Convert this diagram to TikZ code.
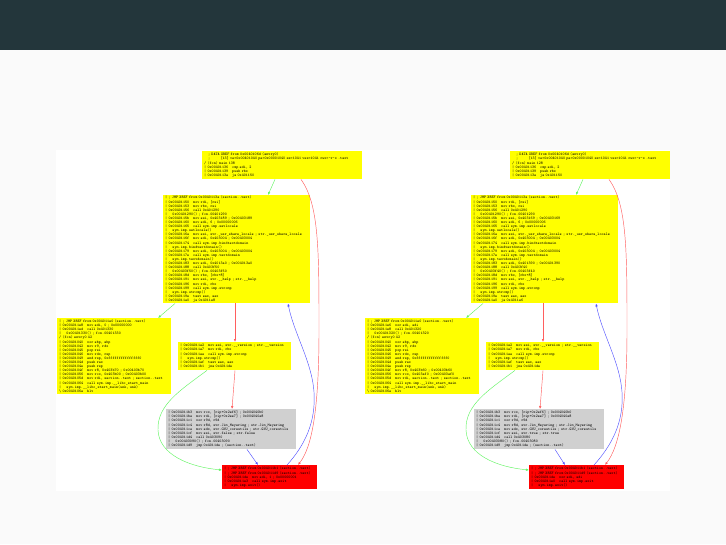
\documentclass[tikz,border=0pt]{standalone}
\usepackage{tikz}
\usetikzlibrary{arrows.meta}
\definecolor{hdr}{RGB}{35,54,59}
\definecolor{pagebg}{RGB}{250,250,250}
\definecolor{cfgyellow}{RGB}{255,255,0}
\definecolor{cfggray}{RGB}{208,208,208}
\definecolor{cfgred}{RGB}{255,0,0}
\definecolor{jgreen}{RGB}{100,245,100}
\definecolor{jred}{RGB}{255,95,95}
\definecolor{jblue}{RGB}{85,85,255}

\begin{document}
\begin{tikzpicture}[x=1pt, y=-1pt,
    blk/.style={anchor=north west, inner xsep=2pt, inner ysep=1pt, align=left,
      font=\ttfamily\fontsize{3.9}{4.1}\selectfont},
    yblk/.style={blk, fill=cfgyellow},
    gblk/.style={blk, fill=cfggray},
    rblk/.style={blk, fill=cfgred},
    jmp/.style={line width=0.45pt, -{Latex[length=3pt,width=2.4pt]}}]
  \useasboundingbox (0,0) rectangle (726,544);
  % slide
  \fill[pagebg] (0,0) rectangle (726,544);
  \fill[hdr] (0,0) rectangle (726,50);
  \fill[white] (56,150) rectangle (670,491);

  % left graph (false)
  \node[yblk, text width=156pt, minimum height=28pt] (topl) at (202,151) {%
    \mbox{}~~~; DATA XREF from 0x0040106d (entry0)\\
    \mbox{}~~~;~~~~~~~~[13] va=0x00401040 pa=0x00001040 sz=1041 vsz=1041 rwx=-r-x .text\\
    / (fcn) main 138\\
    | 0x00401136~~~cmp edi, 2\\
    | 0x00401139~~~push rbx\\
    | 0x0040113a~~~je 0x401150};
  \node[yblk, text width=143pt, minimum height=108pt] (mainl) at (163,195) {%
    | ; JMP XREF from 0x0040113a (section..text)\\
    | 0x00401150~~~mov rdi, [rsi]\\
    | 0x00401153~~~mov rbx, rsi\\
    | 0x00401156~~~call 0x401290\\
    |~~~~0x00401290() ; fcn.00401290\\
    | 0x0040115b~~~mov esi, 0x403189 ; 0x00403189\\
    | 0x00401160~~~mov edi, 6 ; 0x00000006\\
    | 0x00401165~~~call sym.imp.setlocale\\
    |~~~~sym.imp.setlocale()\\
    | 0x0040116a~~~mov esi, str.\_usr\_share\_locale ; str.\_usr\_share\_locale\\
    | 0x0040116f~~~mov edi, 0x403004 ; 0x00403004\\
    | 0x00401174~~~call sym.imp.bindtextdomain\\
    |~~~~sym.imp.bindtextdomain()\\
    | 0x00401179~~~mov edi, 0x403004 ; 0x00403004\\
    | 0x0040117e~~~call sym.imp.textdomain\\
    |~~~~sym.imp.textdomain()\\
    | 0x00401183~~~mov edi, 0x4013a0 ; 0x004013a0\\
    | 0x00401188~~~call 0x403f50\\
    |~~~~0x00403f50() ; fcn.00403f50\\
    | 0x0040118d~~~mov rbx, [rbx+8]\\
    | 0x00401191~~~mov esi, str.\_\_help ; str.\_\_help\\
    | 0x00401196~~~mov rdi, rbx\\
    | 0x00401199~~~call sym.imp.strcmp\\
    |~~~~sym.imp.strcmp()\\
    | 0x0040119e~~~test eax, eax\\
    | 0x004011a0~~~je 0x4011e8};
  \node[yblk, text width=110pt, minimum height=76pt] (fcnl) at (57,318) {%
    | ; JMP XREF from 0x004011a0 (section..text)\\
    | 0x004011e8~~~mov edi, 0 ; 0x00000000\\
    | 0x004011ed~~~call 0x401330\\
    |~~~~0x00401330() ; fcn.00401330\\
    / (fcn) entry0 42\\
    | 0x00401040~~~xor ebp, ebp\\
    | 0x00401042~~~mov r9, rdx\\
    | 0x00401045~~~pop rsi\\
    | 0x00401046~~~mov rdx, rsp\\
    | 0x00401049~~~and rsp, 0xfffffffffffffff0\\
    | 0x0040104d~~~push rax\\
    | 0x0040104e~~~push rsp\\
    | 0x0040104f~~~mov r8, 0x403b70 ; 0x00403b70\\
    | 0x00401056~~~mov rcx, 0x403b00 ; 0x00403b00\\
    | 0x0040105d~~~mov rdi, section..text ; section..text\\
    | 0x00401064~~~call sym.imp.\_\_libc\_start\_main\\
    |~~~~sym.imp.\_\_libc\_start\_main(unk, unk)\\
    \textbackslash{} 0x0040106a~~~hlt};
  \node[yblk, text width=109pt, minimum height=28pt] (verl) at (178,342) {%
    | 0x004011a2~~~mov esi, str.\_\_version ; str.\_\_version\\
    | 0x004011a7~~~mov rdi, rbx\\
    | 0x004011aa~~~call sym.imp.strcmp\\
    |~~~~sym.imp.strcmp()\\
    | 0x004011af~~~test eax, eax\\
    | 0x004011b1~~~jne 0x4011de};
  \node[gblk, text width=126pt, minimum height=40pt] (infol) at (166,409) {%
    | 0x004011b3~~~mov rcx, [rip+0x2ef6] ; 0x004040b0\\
    | 0x004011ba~~~mov rdi, [rip+0x2ee7] ; 0x004040a8\\
    | 0x004011c1~~~xor r9d, r9d\\
    | 0x004011c4~~~mov r8d, str.Jim\_Meyering ; str.Jim\_Meyering\\
    | 0x004011ca~~~mov edx, str.GNU\_coreutils ; str.GNU\_coreutils\\
    | 0x004011cf~~~mov esi, str.false ; str.false\\
    | 0x004011d4~~~call 0x403090\\
    |~~~~0x00403090() ; fcn.00403090\\
    | 0x004011d9~~~jmp 0x4011de ; (section..text)};
  \node[rblk, text width=91pt, minimum height=24pt] (exitl) at (222,465) {%
    | ; JMP XREF from 0x004011b1 (section..text)\\
    | ; JMP XREF from 0x004011d9 (section..text)\\
    | 0x004011de~~~mov edi, 1 ; 0x00000001\\
    | 0x004011e3~~~call sym.imp.exit\\
    |~~~~sym.imp.exit()};

  \draw[jmp, jgreen] ([xshift=73pt]topl.south west) -- ([xshift=105pt]mainl.north west);
  \draw[jmp, jred] ([xshift=99pt]topl.south west) .. controls +(18,25) and +(0,-80) .. (319,330)
    .. controls +(0,80) and +(14,-18) .. ([xshift=76pt]exitl.north west);
  \draw[jmp, jblue] ([xshift=65pt]exitl.north west) .. controls +(18,-20) and +(2,30) .. (314,392)
    .. controls +(-2,-30) and +(6,30) .. ([xshift=125pt]mainl.south west);
  \draw[jmp, jgreen] ([xshift=12pt]mainl.south west) -- ([xshift=101pt]fcnl.north west);
  \draw[jmp, jred] ([xshift=72pt]mainl.south west) -- ([xshift=57pt]verl.north west);
  \draw[jmp, jred] ([xshift=57pt]verl.south west) -- ([xshift=66pt]infol.north west);
  \draw[jmp, jgreen] ([xshift=29pt]verl.south west) .. controls +(-27,20) and +(-1,-25) .. (158,430)
    .. controls +(1,25) and +(-32,-3) .. ([yshift=-5pt]exitl.north west);
  \draw[jmp, jblue] ([xshift=81pt]infol.south west) -- ([xshift=36pt]exitl.north west);

  % right graph (true)
  \begin{scope}[xshift=308pt]
  \node[yblk, text width=156pt, minimum height=28pt] (topr) at (202,151) {%
    \mbox{}~~~; DATA XREF from 0x0040106d (entry0)\\
    \mbox{}~~~;~~~~~~~~[13] va=0x00401040 pa=0x00001040 sz=1041 vsz=1041 rwx=-r-x .text\\
    / (fcn) main 128\\
    | 0x00401136~~~cmp edi, 2\\
    | 0x00401139~~~push rbx\\
    | 0x0040113a~~~je 0x401150};
  \node[yblk, text width=143pt, minimum height=108pt] (mainr) at (163,195) {%
    | ; JMP XREF from 0x0040113a (section..text)\\
    | 0x00401150~~~mov rdi, [rsi]\\
    | 0x00401153~~~mov rbx, rsi\\
    | 0x00401156~~~call 0x401290\\
    |~~~~0x00401290() ; fcn.00401290\\
    | 0x0040115b~~~mov esi, 0x403169 ; 0x00403169\\
    | 0x00401160~~~mov edi, 6 ; 0x00000006\\
    | 0x00401165~~~call sym.imp.setlocale\\
    |~~~~sym.imp.setlocale()\\
    | 0x0040116a~~~mov esi, str.\_usr\_share\_locale ; str.\_usr\_share\_locale\\
    | 0x0040116f~~~mov edi, 0x403004 ; 0x00403004\\
    | 0x00401174~~~call sym.imp.bindtextdomain\\
    |~~~~sym.imp.bindtextdomain()\\
    | 0x00401179~~~mov edi, 0x403004 ; 0x00403004\\
    | 0x0040117e~~~call sym.imp.textdomain\\
    |~~~~sym.imp.textdomain()\\
    | 0x00401183~~~mov edi, 0x401390 ; 0x00401390\\
    | 0x00401188~~~call 0x403f40\\
    |~~~~0x00403f40() ; fcn.00403f40\\
    | 0x0040118d~~~mov rbx, [rbx+8]\\
    | 0x00401191~~~mov esi, str.\_\_help ; str.\_\_help\\
    | 0x00401196~~~mov rdi, rbx\\
    | 0x00401199~~~call sym.imp.strcmp\\
    |~~~~sym.imp.strcmp()\\
    | 0x0040119e~~~test eax, eax\\
    | 0x004011a0~~~je 0x4011e6};
  \node[yblk, text width=110pt, minimum height=76pt] (fcnr) at (57,318) {%
    | ; JMP XREF from 0x004011a0 (section..text)\\
    | 0x004011e6~~~xor edi, edi\\
    | 0x004011e8~~~call 0x401320\\
    |~~~~0x00401320() ; fcn.00401320\\
    / (fcn) entry0 42\\
    | 0x00401040~~~xor ebp, ebp\\
    | 0x00401042~~~mov r9, rdx\\
    | 0x00401045~~~pop rsi\\
    | 0x00401046~~~mov rdx, rsp\\
    | 0x00401049~~~and rsp, 0xfffffffffffffff0\\
    | 0x0040104d~~~push rax\\
    | 0x0040104e~~~push rsp\\
    | 0x0040104f~~~mov r8, 0x403b60 ; 0x00403b60\\
    | 0x00401056~~~mov rcx, 0x403af0 ; 0x00403af0\\
    | 0x0040105d~~~mov rdi, section..text ; section..text\\
    | 0x00401064~~~call sym.imp.\_\_libc\_start\_main\\
    |~~~~sym.imp.\_\_libc\_start\_main(unk, unk)\\
    \textbackslash{} 0x0040106a~~~hlt};
  \node[yblk, text width=109pt, minimum height=28pt] (verr) at (178,342) {%
    | 0x004011a2~~~mov esi, str.\_\_version ; str.\_\_version\\
    | 0x004011a7~~~mov rdi, rbx\\
    | 0x004011aa~~~call sym.imp.strcmp\\
    |~~~~sym.imp.strcmp()\\
    | 0x004011af~~~test eax, eax\\
    | 0x004011b1~~~jne 0x4011de};
  \node[gblk, text width=126pt, minimum height=40pt] (infor) at (166,409) {%
    | 0x004011b3~~~mov rcx, [rip+0x2ef6] ; 0x004040b0\\
    | 0x004011ba~~~mov rdi, [rip+0x2ee7] ; 0x004040a8\\
    | 0x004011c1~~~xor r9d, r9d\\
    | 0x004011c4~~~mov r8d, str.Jim\_Meyering ; str.Jim\_Meyering\\
    | 0x004011ca~~~mov edx, str.GNU\_coreutils ; str.GNU\_coreutils\\
    | 0x004011cf~~~mov esi, str.true ; str.true\\
    | 0x004011d4~~~call 0x403080\\
    |~~~~0x00403080() ; fcn.00403080\\
    | 0x004011d9~~~jmp 0x4011de ; (section..text)};
  \node[rblk, text width=91pt, minimum height=24pt] (exitr) at (221,465) {%
    | ; JMP XREF from 0x004011b1 (section..text)\\
    | ; JMP XREF from 0x004011d9 (section..text)\\
    | 0x004011de~~~xor edi, edi\\
    | 0x004011e0~~~call sym.imp.exit\\
    |~~~~sym.imp.exit()};

  \draw[jmp, jgreen] ([xshift=73pt]topr.south west) -- ([xshift=105pt]mainr.north west);
  \draw[jmp, jred] ([xshift=99pt]topr.south west) .. controls +(18,25) and +(0,-80) .. (319,330)
    .. controls +(0,80) and +(14,-18) .. ([xshift=76pt]exitr.north west);
  \draw[jmp, jblue] ([xshift=65pt]exitr.north west) .. controls +(18,-20) and +(2,30) .. (314,392)
    .. controls +(-2,-30) and +(6,30) .. ([xshift=125pt]mainr.south west);
  \draw[jmp, jgreen] ([xshift=12pt]mainr.south west) -- ([xshift=101pt]fcnr.north west);
  \draw[jmp, jred] ([xshift=72pt]mainr.south west) -- ([xshift=57pt]verr.north west);
  \draw[jmp, jred] ([xshift=57pt]verr.south west) -- ([xshift=66pt]infor.north west);
  \draw[jmp, jgreen] ([xshift=29pt]verr.south west) .. controls +(-27,20) and +(-1,-25) .. (158,430)
    .. controls +(1,25) and +(-32,-3) .. ([yshift=-5pt]exitr.north west);
  \draw[jmp, jblue] ([xshift=81pt]infor.south west) -- ([xshift=36pt]exitr.north west);
  \end{scope}
\end{tikzpicture}
\end{document}
